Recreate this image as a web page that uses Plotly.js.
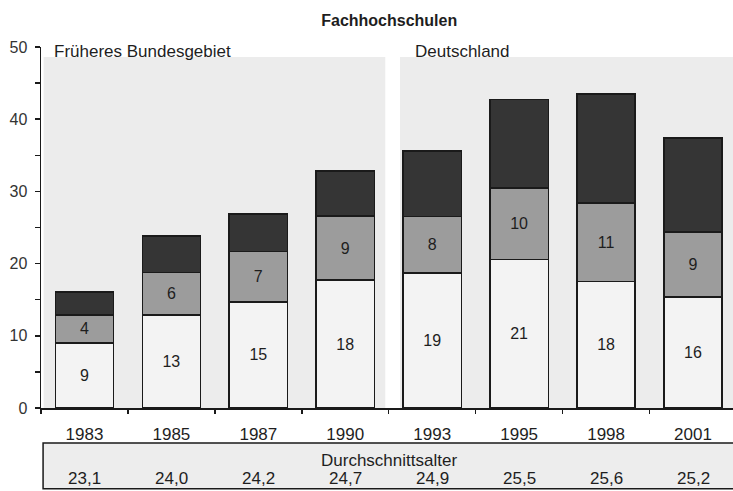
<!DOCTYPE html>
<html>
<head>
<meta charset="utf-8">
<script src="https://cdn.plot.ly/plotly-3.0.1.min.js"></script>
<style>html,body{margin:0;padding:0;background:#fff;}#chart{width:733px;height:491px;}</style>
</head>
<body>
<div id="chart"></div>
<script>
var years = ['1983', '1985', '1987', '1990', '1993', '1995', '1998', '2001'];
var whiteVals = [9.0, 12.9, 14.7, 17.7, 18.7, 20.6, 17.5, 15.4];
var grayVals = [3.9, 5.9, 7.0, 8.9, 7.8, 9.9, 10.9, 9.0];
var darkVals = [3.2, 5.0, 5.2, 6.2, 9.1, 12.2, 15.1, 13.0];
var whiteLabels = ['9', '13', '15', '18', '19', '21', '18', '16'];
var grayLabels = ['4', '6', '7', '9', '8', '10', '11', '9'];
var avgAge = [23.1, 24.0, 24.2, 24.7, 24.9, 25.5, 25.6, 25.2];
var yTicks = [0, 10, 20, 30, 40, 50];

var FONT = 'Liberation Sans, Arial, sans-serif';
var TXT = '#1e1e1e';
var line = {color: '#1a1a1a', width: 1.5};

var traces = [
  {type: 'bar', x: years, y: whiteVals, text: whiteLabels, textposition: 'inside',
   insidetextanchor: 'middle', textangle: 0,
   textfont: {family: FONT, size: 16, color: TXT},
   marker: {color: '#f3f3f3', line: line}, hoverinfo: 'skip'},
  {type: 'bar', x: years, y: grayVals, text: grayLabels, textposition: 'inside',
   insidetextanchor: 'middle', textangle: 0,
   textfont: {family: FONT, size: 16, color: TXT},
   marker: {color: '#9c9c9c', line: line}, hoverinfo: 'skip'},
  {type: 'bar', x: years, y: darkVals, textposition: 'none',
   marker: {color: '#353535', line: line}, hoverinfo: 'skip'}
];

var annotations = [
  {xref: 'paper', yref: 'paper', x: 0.016, y: 0.988, xanchor: 'left', yanchor: 'middle',
   text: 'Früheres Bundesgebiet', showarrow: false, font: {family: FONT, size: 17, color: TXT}},
  {xref: 'paper', yref: 'paper', x: 0.538, y: 0.988, xanchor: 'left', yanchor: 'middle',
   text: 'Deutschland', showarrow: false, font: {family: FONT, size: 17, color: TXT}},
  {xref: 'x', yref: 'paper', x: 3.5, y: -0.146, xanchor: 'center', yanchor: 'middle',
   text: 'Durchschnittsalter', showarrow: false, font: {family: FONT, size: 17, color: TXT}}
];
years.forEach(function (yr, i) {
  annotations.push({xref: 'x', yref: 'paper', x: i, y: -0.194, xanchor: 'center', yanchor: 'middle',
    text: avgAge[i].toFixed(1).replace('.', ','), showarrow: false,
    font: {family: FONT, size: 17, color: TXT}});
});

var shapes = [
  {type: 'rect', layer: 'below', xref: 'x', yref: 'y', x0: -0.47, x1: 3.46, y0: 0, y1: 48.6,
   fillcolor: '#ececec', line: {width: 0}},
  {type: 'rect', layer: 'below', xref: 'x', yref: 'y', x0: 3.63, x1: 7.6, y0: 0, y1: 48.6,
   fillcolor: '#ececec', line: {width: 0}},
  {type: 'rect', layer: 'below', xref: 'paper', yref: 'paper', x0: 0.003, x1: 1.01, y0: -0.224, y1: -0.097,
   fillcolor: '#ededed', line: {color: '#1a1a1a', width: 1.5}}
];

var layout = {
  width: 733, height: 491,
  margin: {l: 41, r: 0, t: 47, b: 83, pad: 0},
  paper_bgcolor: '#ffffff', plot_bgcolor: 'rgba(0,0,0,0)',
  barmode: 'stack', bargap: 0.33,
  showlegend: false,
  title: {text: '<b>Fachhochschulen</b>', x: 0.531, xanchor: 'center', y: 0.958, yanchor: 'middle',
    font: {family: FONT, size: 16, color: TXT}},
  font: {family: FONT, size: 17, color: TXT},
  xaxis: {type: 'category', range: [-0.5, 7.46], showline: true, linecolor: '#1a1a1a', linewidth: 1.5,
    ticks: 'outside', tickson: 'boundaries', ticklen: 4, tickwidth: 1.5, tickcolor: '#1a1a1a',
    ticklabelstandoff: 10, showgrid: false, zeroline: false, fixedrange: true,
    tickfont: {family: FONT, size: 17, color: TXT}},
  yaxis: {range: [0, 50], tickvals: yTicks, showline: true, linecolor: '#1a1a1a', linewidth: 1.5,
    ticks: 'outside', ticklen: 5, tickwidth: 1.5, tickcolor: '#1a1a1a',
    minor: {dtick: 5, ticks: 'outside', ticklen: 5, tickwidth: 1.5, tickcolor: '#1a1a1a', showgrid: false},
    showgrid: false, zeroline: false, fixedrange: true, ticklabelstandoff: 4,
    tickfont: {family: FONT, size: 16, color: '#333'}},
  shapes: shapes,
  annotations: annotations
};

Plotly.newPlot('chart', traces, layout, {displayModeBar: false, staticPlot: true});
</script>
</body>
</html>
